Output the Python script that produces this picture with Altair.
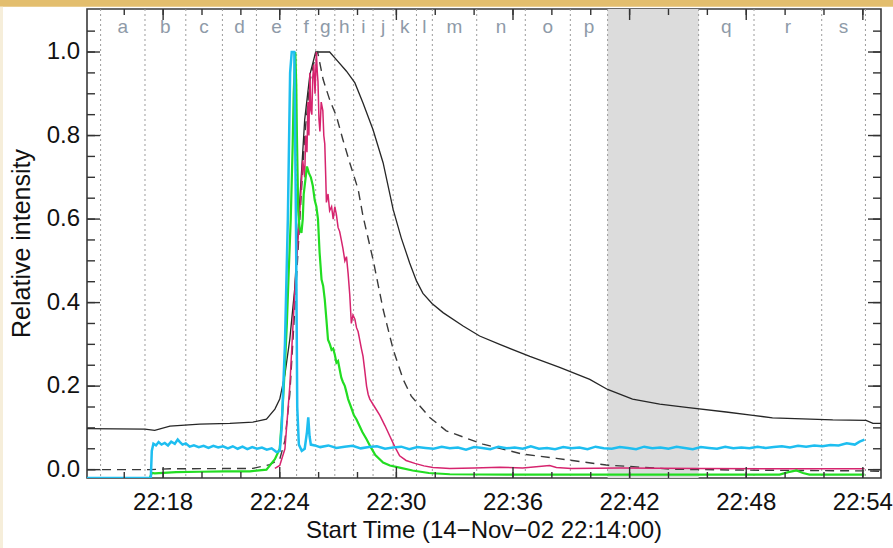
import altair as alt
import pandas as pd

# Times are seconds after 22:14:00 (14-Nov-2002); values are relative intensity.
BLACK_T = [5, 184, 214, 261, 353, 446, 517, 559, 585, 600, 616, 631, 646, 662, 677, 693, 711, 754, 770, 806,
           832, 857, 888, 919, 950, 975, 1001, 1022, 1042, 1070, 1104, 1166, 1217, 1279, 1372, 1464, 1557, 1612, 1689, 1773,
           1855, 1978, 2061, 2121, 2307, 2410, 2431, 2456]
BLACK_V = [0.098, 0.097, 0.094, 0.104, 0.109, 0.111, 0.114, 0.121, 0.145, 0.169, 0.228, 0.312, 0.432, 0.647, 0.838, 0.946, 1.0, 1.0, 0.986, 0.954,
           0.926, 0.878, 0.814, 0.735, 0.623, 0.555, 0.495, 0.452, 0.422, 0.398, 0.376, 0.344, 0.320, 0.300, 0.271, 0.245, 0.216, 0.192, 0.169, 0.157,
           0.149, 0.138, 0.130, 0.124, 0.119, 0.118, 0.111, 0.111]

DASH_T = [5, 199, 261, 517, 569, 600, 616, 631, 646, 662, 677, 693, 711, 717, 734, 754, 775, 795, 816, 842,
          857, 888, 919, 950, 981, 1006, 1063, 1114, 1227, 1351, 1454, 1608, 1814, 2020, 2400, 2456]
DASH_V = [0.0, 0.0, 0.002, 0.003, 0.012, 0.025, 0.07, 0.18, 0.38, 0.6, 0.8, 0.93, 0.995, 1.0, 0.934, 0.886, 0.846, 0.790, 0.735, 0.671,
          0.607, 0.503, 0.384, 0.288, 0.216, 0.176, 0.125, 0.093, 0.061, 0.037, 0.027, 0.011, 0.001, -0.001, -0.003, -0.004]

PINK_T = [585, 600, 616, 631, 646, 662, 671, 677, 680, 684, 687, 690, 693, 696, 699, 702, 705, 709, 713,
          716, 718, 721, 724, 728, 733, 736, 739, 742, 744, 749, 754, 760, 765, 770, 775, 780, 785, 790, 795,
          801, 806, 811, 816, 821, 826, 832, 837, 842, 847, 852, 857, 862, 868, 873, 878, 893, 909, 925, 940,
          955, 970, 990, 1017, 1045, 1073, 1100, 1125, 1200, 1279, 1350, 1433, 1454, 1500, 1650, 1896, 2100, 2405]
PINK_V = [0.003, 0.01, 0.05, 0.2, 0.42, 0.62, 0.74, 0.70, 0.80, 0.76, 0.88, 0.80, 0.95, 0.86, 0.85, 0.94, 0.97, 0.90, 1.0,
          0.95, 0.93, 0.84, 0.81, 0.88, 0.86, 0.80, 0.78, 0.70, 0.64, 0.66, 0.62, 0.63, 0.60, 0.63, 0.61, 0.58, 0.57, 0.55, 0.53,
          0.50, 0.51, 0.47, 0.42, 0.35, 0.37, 0.36, 0.34, 0.33, 0.31, 0.29, 0.272, 0.24, 0.20, 0.18, 0.169, 0.15, 0.13, 0.105, 0.08,
          0.055, 0.033, 0.022, 0.015, 0.009, 0.005, 0.004, 0.003, 0.004, 0.006, 0.004, 0.010, 0.005, 0.003, 0.004, 0.003, 0.002, 0.002]

GREEN_T = [5, 199, 205, 214, 280, 353, 430, 508, 559, 585, 600, 609, 616, 622, 628, 634, 640, 643, 648, 651,
           653, 657, 661, 667, 671, 674, 680, 684, 690, 696, 702, 708, 713, 718, 723, 729, 734, 739, 744, 749,
           755, 760, 765, 770, 775, 780, 785, 790, 795, 801, 806, 811, 820, 829, 837, 846, 855, 868, 880, 895,
           919, 940, 970, 1010, 1060, 1125, 1300, 1587, 1800, 2143, 2170, 2195, 2215, 2235, 2405]
GREEN_V = [-0.02, -0.02, -0.008, -0.009, -0.006, -0.005, -0.004, -0.004, 0.0, 0.025, 0.05, 0.15, 0.25, 0.35, 0.48, 0.6, 0.78, 0.9, 1.0, 0.92,
           0.8, 0.62, 0.58, 0.567, 0.60, 0.66, 0.70, 0.726, 0.71, 0.70, 0.68, 0.645, 0.63, 0.60, 0.52, 0.455, 0.44, 0.407, 0.36, 0.311,
           0.30, 0.287, 0.29, 0.275, 0.256, 0.26, 0.24, 0.22, 0.21, 0.200, 0.185, 0.169, 0.15, 0.13, 0.12, 0.105, 0.09, 0.073, 0.055, 0.035,
           0.017, 0.01, 0.005, -0.002, -0.008, -0.011, -0.012, -0.012, -0.012, -0.012, -0.006, -0.002, -0.008, -0.012, -0.012]

CYAN_T = [5, 202, 205, 210, 218, 226, 235, 245, 255, 265, 276, 285, 292, 300, 310, 322, 335, 350, 365, 380,
          395, 410, 425, 440, 455, 470, 485, 500, 515, 530, 545, 560, 575, 590, 600, 606, 616, 625, 632, 637,
          645, 650, 654, 659, 668, 677, 684, 688, 692, 696, 708,
          725, 750, 775, 800, 825, 850, 875, 900, 925, 950,
          975, 1000, 1025, 1050, 1075, 1100, 1125, 1150, 1175, 1200,
          1225, 1250, 1275, 1300, 1325, 1350, 1375, 1400, 1425, 1450,
          1475, 1500, 1525, 1550, 1575, 1600, 1625, 1650, 1675, 1700,
          1725, 1750, 1775, 1800, 1825, 1850, 1875, 1900, 1925, 1950,
          1975, 2000, 2025, 2050, 2075, 2100, 2125, 2150, 2175, 2200,
          2225, 2250, 2275, 2300, 2325, 2350, 2375, 2390, 2405]
CYAN_V = [-0.02, -0.02, 0.045, 0.062, 0.058, 0.066, 0.060, 0.064, 0.058, 0.067, 0.062, 0.072, 0.066, 0.060, 0.063, 0.055, 0.058, 0.054, 0.057, 0.052,
          0.057, 0.053, 0.056, 0.051, 0.056, 0.050, 0.055, 0.049, 0.054, 0.050, 0.053, 0.048, 0.051, 0.042, 0.045, 0.10, 0.30, 0.60, 0.95, 1.0,
          1.0, 0.60, 0.15, 0.06, 0.045, 0.050, 0.09, 0.125, 0.08, 0.060, 0.058,
          0.054, 0.058, 0.052, 0.055, 0.057, 0.051, 0.054, 0.056, 0.050, 0.053,
          0.055, 0.049, 0.054, 0.052, 0.050, 0.055, 0.051, 0.053, 0.048, 0.054,
          0.052, 0.049, 0.055, 0.051, 0.053, 0.050, 0.056, 0.050, 0.052, 0.049,
          0.054, 0.051, 0.053, 0.049, 0.055, 0.051, 0.050, 0.054, 0.052, 0.049,
          0.055, 0.051, 0.053, 0.050, 0.055, 0.052, 0.049, 0.054, 0.052, 0.050,
          0.055, 0.051, 0.053, 0.051, 0.055, 0.052, 0.054, 0.056, 0.053, 0.057,
          0.055, 0.058, 0.056, 0.059, 0.058, 0.063, 0.060, 0.067, 0.072]

# Interval boundaries (dotted lines) and the letters naming the intervals between them
BOUNDS = [47, 184, 310, 423, 528, 652, 711, 770, 828, 888, 950, 1022, 1071, 1208, 1358, 1497, 1612, 1893, 2064, 2273, 2408]
LETTERS = ["a", "b", "c", "d", "e", "f", "g", "h", "i", "j", "k", "l", "m", "n", "o", "p", "", "q", "r", "s"]
BAND = [1612, 1893]

X_TITLE = "Start Time (14\u2212Nov\u221202 22:14:00)"
Y_TITLE = "Relative intensity"

W, H = 794, 469
PAD_L, PAD_T, PAD_R, PAD_B = 87, 9, 12, 70
X_DOMAIN = [5, 2456]
Y_DOMAIN = [-0.02, 1.103]
FONT = "Liberation Sans"
INK = "#333333"
TEXT = "#111111"

x_scale = alt.Scale(domain=X_DOMAIN, nice=False, zero=False)
y_scale = alt.Scale(domain=Y_DOMAIN, nice=False, zero=False)

# tick positions: majors every 6 min / 0.2, minors every 2 min / 0.05
X_MINOR = list(range(120, 2401, 120))
X_MAJOR = list(range(240, 2401, 360))
Y_MINOR = [round(0.05 * i, 2) for i in range(22)]
Y_MAJOR = [round(0.2 * i, 1) for i in range(6)]

# tick lengths in pixels, turned into data units of each scale
PX_PER_S = W / (X_DOMAIN[1] - X_DOMAIN[0])
PX_PER_V = H / (Y_DOMAIN[1] - Y_DOMAIN[0])
Y_TICK_LEN = {"minor": 8, "major": 13}
X_TICK_LEN = {"minor": 6, "major": 11}


def X(field):
    return alt.X(field, scale=x_scale, axis=None)


def Y(field):
    return alt.Y(field, scale=y_scale, axis=None)


def curve(ts, vs, color, width, dash=None):
    assert len(ts) == len(vs)
    df = pd.DataFrame({"t": ts, "v": vs})
    props = dict(color=color, strokeWidth=width, clip=True)
    if dash:
        props["strokeDash"] = dash
    return alt.Chart(df).mark_line(**props).encode(x=X("t:Q"), y=Y("v:Q"))


# inward tick segments on all four frame edges, each a two-point line
seg_rows = []
for kind, vals in (("minor", Y_MINOR), ("major", Y_MAJOR)):
    dt = Y_TICK_LEN[kind] / PX_PER_S
    for v in vals:
        seg_rows += [{"id": f"L{kind}{v}", "t": X_DOMAIN[0], "v": v},
                     {"id": f"L{kind}{v}", "t": X_DOMAIN[0] + dt, "v": v},
                     {"id": f"R{kind}{v}", "t": X_DOMAIN[1], "v": v},
                     {"id": f"R{kind}{v}", "t": X_DOMAIN[1] - dt, "v": v}]
for kind, vals in (("minor", X_MINOR), ("major", X_MAJOR)):
    dv = X_TICK_LEN[kind] / PX_PER_V
    for t in vals:
        seg_rows += [{"id": f"B{kind}{t}", "t": t, "v": Y_DOMAIN[0]},
                     {"id": f"B{kind}{t}", "t": t, "v": Y_DOMAIN[0] + dv},
                     {"id": f"T{kind}{t}", "t": t, "v": Y_DOMAIN[1]},
                     {"id": f"T{kind}{t}", "t": t, "v": Y_DOMAIN[1] - dv}]
ticks = alt.Chart(pd.DataFrame(seg_rows)).mark_line(color=INK, strokeWidth=1.4).encode(
    x=X("t:Q"), y=Y("v:Q"), detail="id:N"
)

band = alt.Chart(pd.DataFrame({"t": [BAND[0]], "t2": [BAND[1]]})).mark_rect(color="#DCDCDC").encode(
    x=X("t:Q"), x2="t2:Q"
)

rules = alt.Chart(pd.DataFrame({"t": BOUNDS})).mark_rule(
    color="#9C9C9C", strokeWidth=1, strokeDash=[2, 3]
).encode(x=X("t:Q"))

letter_df = pd.DataFrame({
    "t": [(BOUNDS[i] + BOUNDS[i + 1]) / 2 for i in range(len(LETTERS))],
    "letter": LETTERS,
})
letter_df = letter_df[letter_df["letter"] != ""]
letters = alt.Chart(letter_df).mark_text(
    font=FONT, fontSize=19, color="#8E9AA8", baseline="alphabetic", align="center"
).encode(x=X("t:Q"), y=alt.value(24), text="letter:N")

black = curve(BLACK_T, BLACK_V, "#262626", 1.3)
dashed = curve(DASH_T, DASH_V, "#3a3a3a", 1.4, dash=[9, 6])
pink = curve(PINK_T, PINK_V, "#D6246E", 1.5)
green = curve(GREEN_T, GREEN_V, "#22DD22", 2.2)
cyan = curve(CYAN_T, CYAN_V, "#1EBEF0", 2.5)

# axis labels and titles, placed through the same scales
x_lab_df = pd.DataFrame({"t": X_MAJOR, "lab": ["22:%02d" % (14 + t // 60) for t in X_MAJOR]})
x_labels = alt.Chart(x_lab_df).mark_text(
    font=FONT, fontSize=24, color=TEXT, baseline="top", align="center"
).encode(x=X("t:Q"), y=alt.value(H + 13), text="lab:N")

y_lab_df = pd.DataFrame({"v": Y_MAJOR, "lab": ["%.1f" % v for v in Y_MAJOR]})
y_labels = alt.Chart(y_lab_df).mark_text(
    font=FONT, fontSize=24, color=TEXT, baseline="middle", align="right"
).encode(y=Y("v:Q"), x=alt.value(-7), text="lab:N")

titles_df = pd.DataFrame({"k": [0]})
x_title = alt.Chart(titles_df).mark_text(
    font=FONT, fontSize=24, color=TEXT, baseline="middle", align="center", text=X_TITLE
).encode(x=alt.value(W / 2), y=alt.value(H + 53))
y_title = alt.Chart(titles_df).mark_text(
    font=FONT, fontSize=25, color=TEXT, baseline="middle", align="center", angle=270, text=Y_TITLE
).encode(x=alt.value(-65), y=alt.value(H / 2))

one = pd.DataFrame({"k": [0]})
top_stripe = alt.Chart(one).mark_rect(color="#E3BE6E").encode(
    x=alt.value(-PAD_L), x2=alt.value(W + PAD_R), y=alt.value(-PAD_T - 1), y2=alt.value(-PAD_T + 6.7)
)
left_strip = alt.Chart(one).mark_rect(color="#F6EEDA").encode(
    x=alt.value(-PAD_L), x2=alt.value(-PAD_L + 3), y=alt.value(-PAD_T + 6.7), y2=alt.value(H + PAD_B)
)

chart = alt.layer(
    band, rules, letters, black, dashed, pink, green, cyan, ticks,
    x_labels, y_labels, x_title, y_title, top_stripe, left_strip
).properties(
    width=W, height=H,
    autosize=alt.AutoSizeParams(type="none"),
    padding={"left": PAD_L, "top": PAD_T, "right": PAD_R, "bottom": PAD_B},
    background="white",
).configure_view(
    stroke="#3a3a3a", strokeWidth=1.6
)

chart.save("out.html", embed_options={"renderer": "svg", "actions": False})
